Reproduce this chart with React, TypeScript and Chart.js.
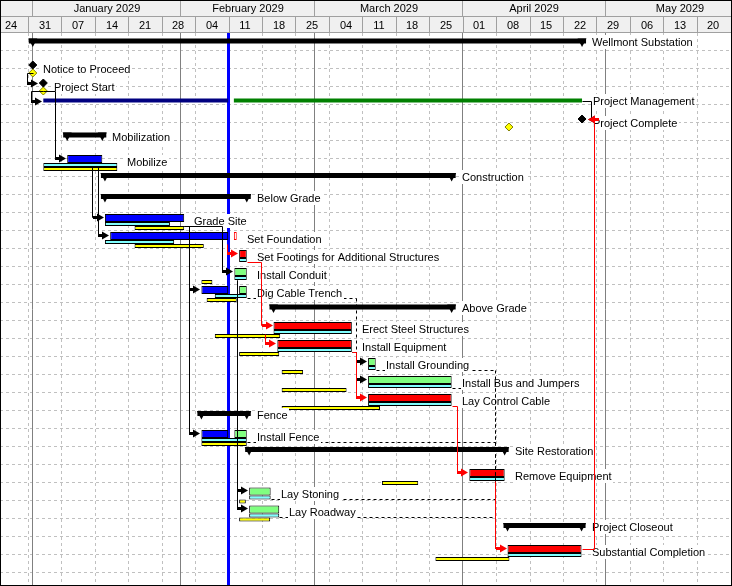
import React, { useEffect, useRef } from 'react';
import { Chart, registerables } from 'chart.js';

Chart.register(...registerables);

const W = 732;
const H = 586;
const HEADER_H = 33;
const ROW_PX = 18;
const FONT = '11px "Liberation Sans", Arial, sans-serif';

// time axis: days counted from 1 January 2029
const VIEW_START = -6.87;
const VIEW_END = 146.4;
const TODAY = 41;

const monthLabels = ['January 2029', 'February 2029', 'March 2029', 'April 2029', 'May 2029'];
const monthStarts = [0, 31, 59, 90, 120];
const monthEnds = [31, 59, 90, 120, 151];
const FIRST_WEEK = -8;
const weekLabels = ['24', '31', '07', '14', '21', '28', '04', '11', '18', '25', '04', '11', '18', '25', '01', '08', '15', '22', '29', '06', '13', '20'];

const N = null;

const taskNames = [
  'Wellmont Substation', 'Notice to Proceed', 'Project Start', 'Project Management', 'Project Complete',
  'Mobilization', 'Mobilize', 'Construction', 'Below Grade', 'Grade Site', 'Set Foundation',
  'Set Footings for Additional Structures', 'Install Conduit', 'Dig Cable Trench', 'Above Grade',
  'Erect Steel Structures', 'Install Equipment', 'Install Grounding', 'Install Bus and Jumpers',
  'Lay Control Cable', 'Fence', 'Install Fence', 'Site Restoration', 'Remove Equipment', 'Lay Stoning',
  'Lay Roadway', 'Project Closeout', 'Substantial Completion',
];
// S = summary, M = milestone, E = level of effort, T = task
const taskKinds = ['S', 'M', 'M', 'E', 'M', 'S', 'T', 'S', 'S', 'T', 'T', 'T', 'T', 'T', 'S', 'T', 'T', 'T', 'T', 'T', 'S', 'T', 'S', 'T', 'T', 'T', 'S', 'T'];
// vertical slot (in grid rows from the top of the time area)
const taskRows = [0.44, 2.0, 3.0, 3.75, 5.0, 5.67, 7.22, 7.92, 9.08, 10.5, 11.5, 12.5, 13.5, 14.5, 15.22, 16.5, 17.5, 18.5, 19.5, 20.5, 21.14, 22.5, 23.14, 24.67, 25.69, 26.69, 27.36, 28.89];
const parentIndex = [-1, 0, 0, 0, 0, 0, 5, 0, 7, 8, 8, 8, 8, 8, 7, 14, 14, 14, 14, 14, 7, 20, 0, 22, 22, 22, 0, 26];

// completed part
const doneStart: (number | null)[] = [N, N, N, 2.2, N, N, 7.2, N, N, 15.1, 16.2, N, N, 35.3, N, N, N, N, N, N, N, 35.3, N, N, N, N, N, N];
const doneEnd: (number | null)[] = [N, N, N, 40.9, N, N, 14.55, N, N, 31.7, 40.9, N, N, 40.9, N, N, N, N, N, N, N, 40.9, N, N, N, N, N, N];
// remaining part (milestones: actual date)
const todoStart: (number | null)[] = [N, 0, 2.2, 42.1, 115, N, N, N, N, N, 42.1, 43.2, 42.2, 43.2, N, 50.4, 51.2, 70.2, 70.2, 70.2, N, 42.2, N, 91.4, 45.3, 45.3, N, 99.4];
const todoEnd: (number | null)[] = [N, 0, 2.2, 115, 115, N, N, N, N, N, 42.7, 44.8, 44.8, 44.8, N, 66.8, 66.8, 71.8, 87.7, 87.7, N, 44.8, N, 98.8, 49.8, 51.6, N, 114.9];
const critical = [0, 0, 0, 0, 1, 0, 0, 0, 0, 0, 1, 1, 0, 0, 0, 1, 1, 0, 0, 1, 0, 0, 0, 1, 0, 0, 0, 1];
// planned (cyan) bars
const planStart: (number | null)[] = [N, N, N, N, N, N, 2.2, N, N, 15.1, 15.1, 43.2, 42.2, 38.1, N, 50.4, 51.2, 70.2, 70.2, 70.2, N, 35.3, N, 91.4, 45.3, 45.3, N, 99.4];
const planEnd: (number | null)[] = [N, N, N, N, N, N, 17.7, N, N, 28.7, 29.6, 44.8, 44.8, 44.8, N, 66.8, 66.8, 71.8, 87.7, 87.7, N, 44.8, N, 98.8, 49.8, 51.6, N, 114.9];
// baseline (yellow) bars / baseline milestones
const baseStart: (number | null)[] = [N, 0, 2.2, N, 99.7, N, 2.2, N, N, 21.3, 21.3, N, 35.3, 36.4, N, 38.1, 43.2, 52.1, 52.1, 52.1, N, 35.3, N, 73.1, 43.2, 43.2, N, 84.3];
const baseEnd: (number | null)[] = [N, 0, 2.2, N, 99.7, N, 17.7, N, N, 31.7, 35.8, N, 37.6, 42.7, N, 51.8, 51.6, 56.6, 65.7, 72.7, N, 44.8, N, 80.7, 44.6, 49.7, N, 99.8];

// dependencies
const linkFrom = [1, 2, 2, 6, 6, 9, 9, 9, 10, 11, 15, 16, 16, 16, 19, 23, 27, 3, 12, 12, 13, 17, 18, 21, 24, 25];
const linkTo = [2, 3, 6, 9, 10, 12, 13, 21, 11, 15, 16, 17, 18, 19, 23, 27, 4, 4, 24, 25, 17, 27, 27, 27, 27, 27];
const linkKinds = ['FS', 'FS', 'FS', 'FS', 'FS', 'FS', 'FS', 'FS', 'FS', 'FS', 'FS', 'FS', 'FS', 'FS', 'FS', 'FS', 'FF', 'FF', 'FS', 'FS', 'float', 'float', 'float', 'float', 'float', 'float'];

const COLORS = {
  done: '#0000ff',
  todo: '#80ff80',
  crit: '#ff0000',
  plan: '#80ffff',
  base: '#ffff00',
  effortDone: '#000080',
  effortTodo: '#008000',
  grid: '#c0c0c0',
  month: '#808080',
  header: '#f0f0f0',
  headerLine: '#a0a0a0',
  today: '#0000ff',
};

const px2day = (p: number) => (p * (VIEW_END - VIEW_START)) / W;
const px2row = (p: number) => p / ROW_PX;

function isDesc(j: number, i: number) {
  let p = parentIndex[j];
  while (p !== -1) {
    if (p === i) return true;
    p = parentIndex[p];
  }
  return false;
}
const firstDay = (i: number) => (doneStart[i] ?? todoStart[i]) as number;
const lastDay = (i: number) => (todoEnd[i] ?? doneEnd[i]) as number;
const minDay = (i: number) => Math.min(...[doneStart[i], todoStart[i], planStart[i], baseStart[i]].filter((v) => v != null) as number[]);

const summaryRange = taskNames.map((_, i) => {
  if (taskKinds[i] !== 'S') return null;
  const kids = taskNames.map((__, j) => j).filter((j) => taskKinds[j] !== 'S' && isDesc(j, i));
  return [Math.min(...kids.map(firstDay)), Math.max(...kids.map(lastDay))];
});

function buildDatasets() {
  const mainData: any[] = [], mainFill: string[] = [], mainBorder: string[] = [];
  const effortData: any[] = [], effortFill: string[] = [];
  const planData: any[] = [], baseData: any[] = [], sumData: any[] = [];
  const msData: any[] = [], msBaseData: any[] = [];
  taskNames.forEach((_, i) => {
    const r = taskRows[i];
    const k = taskKinds[i];
    if (k === 'S') {
      const [a, b] = summaryRange[i] as number[];
      sumData.push({ x: [a - px2day(4), b + px2day(4)], y: r });
    } else if (k === 'M') {
      msData.push({ x: todoStart[i], y: r - px2row(4) });
      if (baseStart[i] != null) msBaseData.push({ x: baseStart[i], y: r + px2row(4) });
    } else if (k === 'E') {
      effortData.push({ x: [doneStart[i], doneEnd[i]], y: r });
      effortFill.push(COLORS.effortDone);
      effortData.push({ x: [todoStart[i], todoEnd[i]], y: r });
      effortFill.push(COLORS.effortTodo);
    } else {
      const yb = r - px2row(4);
      if (doneStart[i] != null) {
        mainData.push({ x: [doneStart[i], doneEnd[i]], y: yb });
        mainFill.push(COLORS.done);
        mainBorder.push('#000');
      }
      if (todoStart[i] != null) {
        const c = critical[i] ? COLORS.crit : COLORS.todo;
        const short = (todoEnd[i] as number) - (todoStart[i] as number) < 1;
        mainData.push({ x: [todoStart[i], todoEnd[i]], y: yb });
        mainFill.push(short ? '#ffffff' : c);
        mainBorder.push(short ? c : '#000');
      }
      if (planStart[i] != null) planData.push({ x: [planStart[i], planEnd[i]], y: r + px2row(2) });
      if (baseStart[i] != null) baseData.push({ x: [baseStart[i], baseEnd[i]], y: r + px2row(6) });
    }
  });
  const bar = { type: 'bar', indexAxis: 'y', grouped: false, borderSkipped: false, inflateAmount: 0 };
  return [
    {
      type: 'scatter', label: 'milestones', data: msData, pointStyle: 'rectRot', pointRadius: 4,
      pointBackgroundColor: '#000', pointBorderColor: '#000', pointBorderWidth: 1, backgroundColor: '#000', borderColor: '#000', showLine: false,
    },
    {
      type: 'scatter', label: 'baseline milestones', data: msBaseData, pointStyle: 'rectRot', pointRadius: 4,
      pointBackgroundColor: COLORS.base, pointBorderColor: '#808000', pointBorderWidth: 1, backgroundColor: COLORS.base, borderColor: '#808000', showLine: false,
    },
    { ...bar, label: 'main', data: mainData, backgroundColor: mainFill, borderColor: mainBorder, borderWidth: 1, barThickness: 8 },
    { ...bar, label: 'plan', data: planData, backgroundColor: COLORS.plan, borderColor: '#000', borderWidth: 1, barThickness: 4 },
    { ...bar, label: 'baseline', data: baseData, backgroundColor: COLORS.base, borderColor: '#000', borderWidth: 1, barThickness: 4 },
    { ...bar, label: 'effort', data: effortData, backgroundColor: effortFill, borderWidth: 0, barThickness: 4 },
    { ...bar, label: 'summary', data: sumData, backgroundColor: '#000', borderWidth: 0, barThickness: 5 },
  ];
}

const snap = (v: number) => Math.round(v) + 0.5;

function strokePath(ctx: CanvasRenderingContext2D, pts: number[][]) {
  ctx.beginPath();
  pts.forEach(([px, py], k) => {
    if (k) ctx.lineTo(snap(px), snap(py));
    else ctx.moveTo(snap(px), snap(py));
  });
  ctx.stroke();
}
function arrowHead(ctx: CanvasRenderingContext2D, tx: number, ty: number, dir: number) {
  const X = Math.round(tx) + (dir > 0 ? 0 : 1);
  const Y = snap(ty);
  ctx.beginPath();
  ctx.moveTo(X, Y);
  ctx.lineTo(X - dir * 7, Y - 4);
  ctx.lineTo(X - dir * 7, Y + 4);
  ctx.closePath();
  ctx.fill();
  ctx.fillRect(dir > 0 ? X - 11 : X + 7, Y - 1.5, 4, 3);
}

const ganttPlugin = {
  id: 'gantt',
  beforeDatasetsDraw(chart: any) {
    const { ctx, chartArea: a, scales } = chart;
    const x = scales.x, y = scales.y;
    ctx.save();
    ctx.fillStyle = '#fff';
    ctx.fillRect(a.left, a.top, a.right - a.left, a.bottom - a.top);
    ctx.lineWidth = 1;
    ctx.strokeStyle = COLORS.grid;
    ctx.setLineDash([3, 3]);
    for (let r = 1; r < (H - HEADER_H) / ROW_PX; r++) {
      const py = Math.round(y.getPixelForValue(r)) - 0.5;
      ctx.beginPath();
      ctx.moveTo(a.left, py);
      ctx.lineTo(a.right, py);
      ctx.stroke();
    }
    weekLabels.forEach((_, k) => {
      const d = FIRST_WEEK + 7 * k;
      if (monthStarts.includes(d)) return;
      const px = Math.round(x.getPixelForValue(d)) + 0.5;
      ctx.beginPath();
      ctx.moveTo(px, a.top);
      ctx.lineTo(px, a.bottom);
      ctx.stroke();
    });
    ctx.setLineDash([]);
    ctx.strokeStyle = COLORS.month;
    monthStarts.forEach((d) => {
      const px = Math.floor(x.getPixelForValue(d)) + 0.5;
      ctx.beginPath();
      ctx.moveTo(px, a.top);
      ctx.lineTo(px, a.bottom);
      ctx.stroke();
    });
    ctx.fillStyle = COLORS.today;
    const tx = x.getPixelForValue(TODAY);
    ctx.fillRect(Math.round(tx) - 2, a.top, 3, a.bottom - a.top);
    ctx.restore();
  },
  afterDatasetsDraw(chart: any) {
    const { ctx, scales } = chart;
    const x = scales.x, y = scales.y;
    const X = (d: number) => x.getPixelForValue(d);
    const anchor = (i: number) => y.getPixelForValue(taskRows[i]);
    const arrowY = (i: number) => (taskKinds[i] === 'T' ? anchor(i) - 5 : taskKinds[i] === 'M' ? anchor(i) - 4 : anchor(i));
    const targetX = (i: number) => (taskKinds[i] === 'M' ? X(todoStart[i] as number) - 4 : X(firstDay(i)));
    ctx.save();

    // summary end triangles
    ctx.fillStyle = '#000';
    taskNames.forEach((_, i) => {
      if (taskKinds[i] !== 'S') return;
      const [s, e] = summaryRange[i] as number[];
      const ay = anchor(i);
      [X(s), X(e)].forEach((px) => {
        ctx.beginPath();
        ctx.moveTo(px - 4.5, ay - 2.5);
        ctx.lineTo(px + 4.5, ay - 2.5);
        ctx.lineTo(px, ay + 6);
        ctx.closePath();
        ctx.fill();
      });
    });

    // float lines: horizontal part
    ctx.strokeStyle = '#000';
    ctx.lineWidth = 1;
    ctx.setLineDash([3, 3]);
    const floatVerticals: number[][][] = [];
    linkFrom.forEach((p, k) => {
      if (linkKinds[k] !== 'float') return;
      const s = linkTo[k];
      const sx = X(lastDay(p));
      const by = anchor(p) + 4;
      const vx = targetX(s) - 12.5;
      strokePath(ctx, [[sx, by], [vx, by]]);
      floatVerticals.push([[vx, by], [vx, arrowY(s)]]);
    });
    ctx.setLineDash([]);

    // labels with opaque background
    ctx.font = FONT;
    ctx.textBaseline = 'middle';
    ctx.textAlign = 'left';
    taskNames.forEach((name, i) => {
      const k = taskKinds[i];
      const ay = anchor(i);
      let ex: number, ty: number;
      if (k === 'S') {
        ex = X((summaryRange[i] as number[])[1]) + 10;
        ty = ay + 1.5;
      } else if (k === 'M') {
        ex = X(todoStart[i] as number) + 10.5;
        ty = ay;
      } else if (k === 'E') {
        ex = X(todoEnd[i] as number) + 11;
        ty = ay + 0.5;
      } else {
        const ends = [doneEnd[i], todoEnd[i], planEnd[i], baseEnd[i]].filter((v) => v != null) as number[];
        ex = X(Math.max(...ends)) + 10;
        ty = ay - 1;
      }
      const w = ctx.measureText(name).width;
      ctx.fillStyle = '#fff';
      ctx.fillRect(Math.round(ex) - 1, Math.round(ty) - 7, Math.ceil(w) + 2, 14);
      ctx.fillStyle = '#000';
      ctx.fillText(name, Math.round(ex), Math.round(ty) + 0.5);
    });

    // float lines: vertical part
    ctx.setLineDash([3, 3]);
    floatVerticals.forEach((pts) => strokePath(ctx, pts));
    ctx.setLineDash([]);

    // driving links: black first, then critical (red)
    [0, 1].forEach((pass) => {
      linkFrom.forEach((p, k) => {
        const kind = linkKinds[k];
        if (kind === 'float') return;
        const s = linkTo[k];
        const crit = critical[p] && critical[s] ? 1 : 0;
        if (crit !== pass) return;
        const col = crit ? COLORS.crit : '#000';
        ctx.strokeStyle = col;
        ctx.fillStyle = col;
        if (kind === 'FS') {
          const sx = X(lastDay(p));
          const by = anchor(p) + 4;
          const tx = targetX(s);
          const ty = arrowY(s);
          const vx = tx - 12.5;
          const leftEdge = taskKinds[p] === 'M' ? X(minDay(p)) - 4 : X(minDay(p));
          let pts: number[][];
          if (vx >= sx || vx < leftEdge) pts = [[sx, by], [vx, by], [vx, ty], [tx - 3, ty]];
          else pts = [[vx, by], [vx, ty], [tx - 3, ty]];
          strokePath(ctx, pts);
          arrowHead(ctx, tx - 1, ty, 1);
        } else {
          const sx = X(lastDay(p));
          const sy = taskKinds[p] === 'E' ? anchor(p) : anchor(p) - 4;
          const hx = sx + (crit ? 12 : 9);
          const tx = X(todoStart[s] as number) + 4;
          const ty = anchor(s) - 4;
          strokePath(ctx, [[sx, sy], [hx, sy], [hx, ty], [tx + 3, ty]]);
          arrowHead(ctx, tx + 1, ty, -1);
        }
      });
    });
    ctx.restore();
  },
  afterDraw(chart: any) {
    const { ctx, scales } = chart;
    const x = scales.x;
    ctx.save();
    ctx.fillStyle = COLORS.header;
    ctx.fillRect(0, 0, W, HEADER_H);
    ctx.strokeStyle = COLORS.headerLine;
    ctx.lineWidth = 1;
    ctx.beginPath();
    ctx.moveTo(0, 16.5);
    ctx.lineTo(W, 16.5);
    ctx.moveTo(0, 32.5);
    ctx.lineTo(W, 32.5);
    monthStarts.forEach((d) => {
      const px = Math.floor(x.getPixelForValue(d)) + 0.5;
      ctx.moveTo(px, 0);
      ctx.lineTo(px, 16.5);
    });
    weekLabels.forEach((_, k) => {
      const px = Math.round(x.getPixelForValue(FIRST_WEEK + 7 * k)) + 0.5;
      ctx.moveTo(px, 16.5);
      ctx.lineTo(px, 32.5);
    });
    ctx.stroke();
    ctx.fillStyle = '#000';
    ctx.font = FONT;
    ctx.textAlign = 'center';
    ctx.textBaseline = 'middle';
    monthLabels.forEach((m, k) => {
      ctx.fillText(m, Math.round(x.getPixelForValue((monthStarts[k] + monthEnds[k]) / 2)), 9);
    });
    weekLabels.forEach((w, k) => {
      ctx.fillText(w, Math.round(x.getPixelForValue(FIRST_WEEK + 7 * k + 3.5)), 25.5);
    });
    ctx.strokeStyle = '#000';
    ctx.strokeRect(0.5, 0.5, W - 1, H - 1);
    ctx.restore();
  },
};

export default function App() {
  const ref = useRef<HTMLCanvasElement>(null);
  useEffect(() => {
    if (!ref.current) return;
    const chart = new Chart(ref.current, {
      type: 'bar',
      data: { datasets: buildDatasets() as any },
      options: {
        indexAxis: 'y',
        responsive: false,
        maintainAspectRatio: false,
        devicePixelRatio: 1,
        animation: false,
        events: [],
        layout: { autoPadding: false, padding: { top: HEADER_H, left: 0, right: 0, bottom: 0 } },
        scales: {
          x: { type: 'linear', min: VIEW_START, max: VIEW_END, display: false, offset: false },
          y: { type: 'linear', min: 0, max: (H - HEADER_H) / ROW_PX, reverse: true, display: false, offset: false },
        },
        plugins: { legend: { display: false }, tooltip: { enabled: false } },
      } as any,
      plugins: [ganttPlugin as any],
    });
    return () => chart.destroy();
  }, []);
  return (
    <div style={{ position: 'fixed', left: 0, top: 0, width: W, height: H }}>
      <canvas ref={ref} width={W} height={H} style={{ display: 'block', width: W, height: H }} />
    </div>
  );
}
